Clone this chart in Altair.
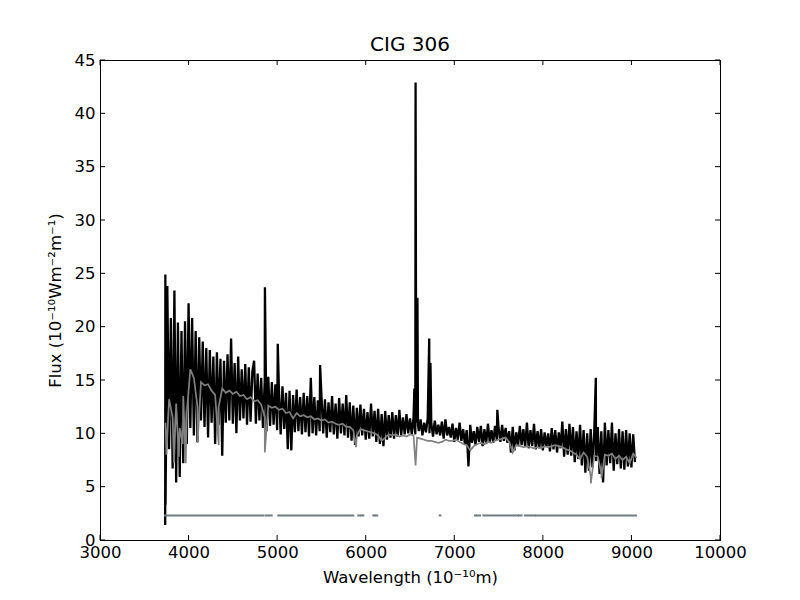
import altair as alt
import numpy as np
import pandas as pd

TITLE = "CIG 306"
X_TITLE = "Wavelength (10⁻¹⁰m)"
Y_TITLE = "Flux (10⁻¹⁰Wm⁻²m⁻¹)"

x_ticks = [3000, 4000, 5000, 6000, 7000, 8000, 9000, 10000]
y_ticks = [0, 5, 10, 15, 20, 25, 30, 35, 40, 45]

# observed spectrum (black), sampled every 20 A from 3740 A
black_start, black_step = 3740, 20
black_flux = [
    3.3, 23.8, 8.5, 20.8, 6.7, 23.4, 5.4, 20.4, 5.9, 19.6,
    7.2, 20.5, 9.0, 22.2, 10.5, 20.8, 9.8, 19.6, 9.2, 19.0,
    11.2, 18.6, 10.6, 18.0, 9.6, 17.8, 11.0, 17.2, 9.0, 17.6,
    10.8, 17.0, 7.9, 16.8, 11.0, 17.4, 11.2, 18.9, 10.9, 16.6,
    10.0, 17.2, 11.2, 16.0, 11.4, 16.5, 10.8, 16.2, 11.1, 15.8,
    16.8, 10.9, 15.6, 11.2, 15.2, 10.5, 15.0, 10.2, 15.3, 10.7,
    14.8, 10.8, 14.6, 10.3, 14.2, 9.9, 14.4, 10.4, 13.8, 8.5,
    14.0, 8.4, 13.6, 10.1, 14.1, 10.2, 13.4, 9.9, 13.8, 10.1,
    13.5, 9.7, 15.2, 10.0, 13.4, 9.8, 13.1, 10.2, 13.6, 10.0,
    13.2, 9.6, 12.9, 10.1, 13.5, 9.9, 12.8, 9.5, 13.3, 10.0,
    12.8, 9.8, 13.6, 9.6, 12.9, 9.3, 12.6, 8.9, 12.4, 9.7,
    12.7, 9.8, 12.3, 9.4, 12.0, 9.5, 12.8, 9.7, 12.1, 9.2,
    12.3, 9.0, 11.8, 8.8, 12.1, 9.4, 11.7, 9.6, 12.0, 9.5,
    11.7, 9.7, 12.2, 9.8, 11.5, 9.9, 11.8, 10.0, 11.4, 9.9,
    11.5, 9.9, 11.6, 10.2, 11.3, 9.8, 11.0, 10.1, 11.4, 10.0,
    11.0, 9.7, 11.2, 9.9, 10.8, 9.8, 11.1, 9.5, 11.3, 9.8,
    10.6, 9.6, 10.9, 9.2, 10.5, 9.4, 11.0, 9.3, 10.4, 9.0,
    10.3, 6.9, 10.8, 9.1, 10.2, 8.9, 10.6, 9.2, 10.7, 8.8,
    10.4, 9.0, 10.9, 9.2, 10.3, 9.1, 10.7, 9.4, 10.5, 9.2,
    10.8, 9.3, 10.5, 9.1, 10.2, 8.2, 10.6, 8.4, 10.1, 8.8,
    10.7, 8.9, 10.4, 8.7, 11.0, 8.6, 10.3, 8.8, 10.9, 8.5,
    10.2, 8.6, 10.4, 8.4, 10.1, 8.7, 10.0, 8.3, 10.5, 8.5,
    10.3, 8.2, 10.1, 8.6, 11.1, 7.8, 10.4, 8.0, 10.9, 7.9,
    10.6, 7.3, 10.2, 7.6, 10.8, 7.0, 10.3, 6.3, 10.0, 6.5,
    10.4, 6.8, 10.1, 7.4, 10.6, 6.2, 10.2, 5.4, 11.0, 7.0,
    10.3, 7.2, 11.0, 6.5, 10.0, 7.1, 10.4, 6.7, 10.2, 6.6,
    10.3, 6.9, 10.0, 6.8, 9.9, 7.3,
]
# emission lines / extreme points
black_lines_wl = [3736, 3738, 4862, 5007, 5485, 6549, 6555, 6563, 6570, 6584, 6590, 6717, 6731, 7486, 8598]
black_lines_flux = [1.4, 24.9, 23.7, 18.4, 16.4, 14.2, 10.5, 42.9, 11.0, 22.7, 10.8, 18.9, 16.6, 12.2, 15.2]

# model spectrum (gray), sampled every 40 A from 3740 A
gray_start, gray_step = 3740, 40
gray_flux = [
    11.0, 13.2, 11.5, 12.8, 10.5, 13.5, 12.0, 16.0, 15.2, 12.5,
    14.8, 14.5, 14.6, 14.0, 13.6, 12.5, 14.2, 13.8, 14.0, 13.7,
    13.9, 13.5, 13.6, 13.2, 13.4, 13.0, 13.1, 12.7, 11.5, 12.6,
    12.4, 12.5, 12.2, 12.3, 11.9, 12.0, 11.4, 11.9, 11.6, 11.7,
    11.5, 11.6, 11.3, 11.4, 11.2, 11.3, 11.0, 11.1, 10.9, 10.8,
    10.9, 10.6, 10.6, 10.3, 9.8, 10.4, 10.3, 10.2, 10.1, 10.0,
    9.8, 9.3, 9.6, 9.9, 9.8, 9.9, 9.7, 9.8, 9.7, 9.9,
    9.8, 9.6, 9.5, 9.4, 9.3, 9.3, 9.2, 9.1, 9.2, 9.4,
    9.3, 9.3, 9.4, 9.2, 9.0, 8.9, 8.4, 8.8, 9.0, 9.1,
    9.0, 9.2, 9.1, 9.3, 9.4, 9.5, 9.6, 9.2, 8.2, 8.9,
    8.8, 8.7, 8.8, 8.7, 8.6, 8.7, 8.6, 8.8, 8.7, 8.8,
    8.9, 8.8, 8.7, 8.5, 8.4, 8.2, 8.0, 7.6, 8.2, 7.8,
    6.0, 7.9, 7.8, 6.3, 8.0, 7.9, 8.1, 7.6, 7.9, 7.5,
    7.8, 7.2, 8.1, 7.7,
]
gray_dips_wl = [3750, 3835, 3890, 3934, 3968, 4102, 4340, 4861, 5890, 6563, 8542, 8662]
gray_dips_flux = [8.0, 7.2, 7.8, 9.0, 7.2, 9.1, 8.9, 8.2, 8.7, 7.0, 5.3, 5.8]

# masked-pixel indicator segments
mask_level = 2.3
mask_start = [3734, 4870, 5013, 5917, 5950, 6086, 6115, 6835, 7234, 7260, 7328, 7677, 7730, 7798, 7874, 7923]
mask_end = [4844, 4938, 5860, 5935, 5973, 6100, 6130, 6843, 7245, 7290, 7659, 7720, 7760, 7855, 7911, 9051]

assert len(black_flux) == 266
assert len(gray_flux) == 134

black_wl = black_start + black_step * np.arange(len(black_flux))
gray_wl = gray_start + gray_step * np.arange(len(gray_flux))

black_df = pd.DataFrame({
    "wl": np.concatenate([black_wl, black_lines_wl]),
    "flux": np.concatenate([black_flux, black_lines_flux]),
}).sort_values("wl")
gray_df = pd.DataFrame({
    "wl": np.concatenate([gray_wl, gray_dips_wl]),
    "flux": np.concatenate([gray_flux, gray_dips_flux]),
}).sort_values("wl")
mask_df = pd.DataFrame({"start": mask_start, "end": mask_end, "level": [mask_level] * len(mask_start)})
xt_df = pd.DataFrame({"v": x_ticks})
yt_df = pd.DataFrame({"v": y_ticks})

W, H = 620, 480
FONT = "DejaVu Sans"
FS = 16.5

xscale = alt.Scale(domain=[3000, 10000], nice=False, zero=False)
yscale = alt.Scale(domain=[0, 45], nice=False, zero=False)

xaxis = alt.Axis(values=x_ticks, format="d", title=X_TITLE, ticks=False, grid=False,
                 labelPadding=4, titlePadding=9, labelFontSize=FS, titleFontSize=FS,
                 labelFont=FONT, titleFont=FONT, labelColor="black", titleColor="black",
                 titleFontWeight="normal", domainColor="black", labelFlush=False)
yaxis = alt.Axis(values=y_ticks, format="d", title=Y_TITLE, ticks=False, grid=False,
                 labelPadding=5, titlePadding=11, labelFontSize=FS, titleFontSize=FS,
                 labelFont=FONT, titleFont=FONT, labelColor="black", titleColor="black",
                 titleFontWeight="normal", domainColor="black", labelFlush=False)

black = alt.Chart(black_df).mark_line(color="black", strokeWidth=2.3, strokeJoin="bevel").encode(
    x=alt.X("wl:Q", scale=xscale, axis=xaxis),
    y=alt.Y("flux:Q", scale=yscale, axis=yaxis),
)
gray = alt.Chart(gray_df).mark_line(color="#808080", strokeWidth=1.7).encode(
    x=alt.X("wl:Q", scale=xscale, axis=xaxis),
    y=alt.Y("flux:Q", scale=yscale, axis=yaxis),
)
mask = alt.Chart(mask_df).mark_rule(color="#6e7b80", strokeWidth=2, strokeCap="square").encode(
    x=alt.X("start:Q", scale=xscale, axis=xaxis),
    x2="end:Q",
    y=alt.Y("level:Q", scale=yscale, axis=yaxis),
)
xt_bottom = alt.Chart(xt_df).mark_rule(color="black", strokeWidth=1).encode(
    x=alt.X("v:Q", scale=xscale, axis=xaxis), y=alt.value(H), y2=alt.value(H - 5))
xt_top = alt.Chart(xt_df).mark_rule(color="black", strokeWidth=1).encode(
    x=alt.X("v:Q", scale=xscale, axis=xaxis), y=alt.value(0), y2=alt.value(5))
yt_left = alt.Chart(yt_df).mark_rule(color="black", strokeWidth=1).encode(
    y=alt.Y("v:Q", scale=yscale, axis=yaxis), x=alt.value(0), x2=alt.value(5))
yt_right = alt.Chart(yt_df).mark_rule(color="black", strokeWidth=1).encode(
    y=alt.Y("v:Q", scale=yscale, axis=yaxis), x=alt.value(W), x2=alt.value(W - 5))

chart = alt.layer(black, gray, mask, xt_bottom, xt_top, yt_left, yt_right).properties(
    width=W, height=H,
    title=alt.TitleParams(TITLE, font=FONT, fontSize=20, fontWeight="normal", color="black",
                          anchor="middle", offset=7, baseline="alphabetic", dy=26),
    autosize=alt.AutoSizeParams(type="none"),
    padding={"left": 92, "top": 52, "right": 72, "bottom": 52},
    background="white",
).configure_view(stroke="black", strokeWidth=1)

chart.save("out.html", embed_options={"renderer": "svg", "actions": False})
